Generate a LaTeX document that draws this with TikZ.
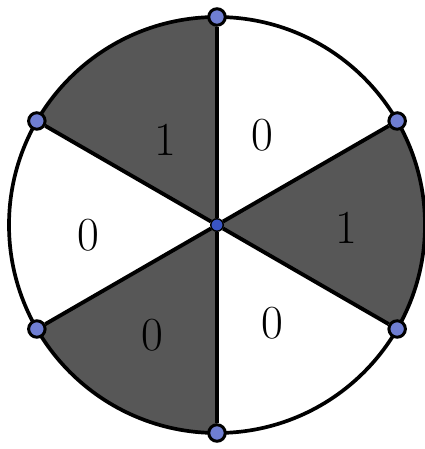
\documentclass[tikz,border=0pt]{standalone}
\usepackage{amsmath}
\usetikzlibrary{positioning}

\definecolor{sector}{HTML}{575757}
\definecolor{vblue}{HTML}{6F7ED2}
\definecolor{cblue}{HTML}{3A55C4}

\begin{document}
\begin{tikzpicture}[x=0.02cm, y=0.02cm,
                    vert/.style={circle, draw, line width=1.7pt, fill=vblue, inner sep=0pt, minimum size=0.33cm},
                    hub/.style={circle, draw, line width=0.8pt, fill=cblue, inner sep=0pt, minimum size=0.25cm},
                    spoke/.style={line width=2.2pt},
                    lbl/.style={font=\fontsize{27}{30}\selectfont}]
    \useasboundingbox (-217,-224) rectangle (208,225);
    % shaded sectors
    \foreach \a in {90,330,210}
        \fill[sector] (0,0) -- (\a:208) arc (\a:\a+60:208) -- cycle;
    \draw[line width=2.1pt] (0,0) circle (208);
    % vertices
    \node[hub] (c) at (0,0) {};
    \foreach \a [count=\i] in {90,30,-30,-90,-150,150}
        \node[vert] (v\i) at (\a:208) {};
    \foreach \i in {1,...,6}
        \draw[spoke] (c) -- (v\i);
    % labels
    \node[lbl] (l1) at (-52,85) {1};
    \node[lbl] (l2) at (45,90) {0};
    \node[lbl] (l3) at (129,-3) {1};
    \node[lbl] (l4) at (-129,-10) {0};
    \node[lbl] (l5) at (-65,-110) {0};
    \node[lbl] (l6) at (55,-98) {0};
\end{tikzpicture}
\end{document}
